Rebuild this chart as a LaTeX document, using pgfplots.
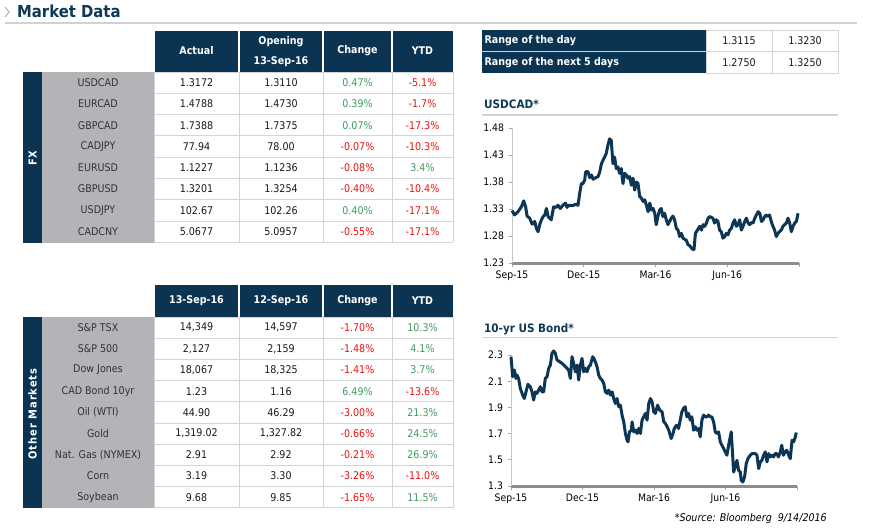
\documentclass[border=0pt]{standalone}
\usepackage{pgfplots}
\pgfplotsset{compat=1.18}
\usepackage{fontspec}
\setmainfont{DejaVu Sans Condensed}
\definecolor{navy}{HTML}{0B3452}
\definecolor{lab}{HTML}{B3B4B7}
\definecolor{labtxt}{HTML}{333333}
\definecolor{gr}{HTML}{3F9A60}
\definecolor{rd}{HTML}{EE1111}
\definecolor{bd}{HTML}{D4D4D4}
\definecolor{ln}{HTML}{0C3654}
\definecolor{ttl}{HTML}{0E3A58}

\newcommand\hfont{\bfseries\fontsize{10.6}{20}\selectfont}
\newcommand\vfont{\fontsize{10.6}{12}\selectfont}
% one table row: y-centre, name, v1, v2, change, colour, ytd, colour
\newcommand\trow[8]{%
  \node[text=labtxt,font=\vfont] at (98,#1) {#2};
  \node[text=black!90,font=\vfont] at (196.5,#1) {#3};
  \node[text=black!90,font=\vfont] at (281,#1) {#4};
  \node[text=#6,font=\vfont] at (357.5,#1) {#5};
  \node[text=#8,font=\vfont] at (422.5,#1) {#7};
}
\newcommand\hcell[4]{% x1,x2,ytop,ybot
  \fill[navy] (#1,#3) rectangle (#2,#4);}

\pgfplotsset{mychart/.style={
  scale only axis, axis lines*=left,
  xmin=0, xmax=12, xtick={0,3,6,9,12},
  xticklabels={Sep-15,Dec-15,Mar-16,Jun-16,{}},
  tick align=outside, major tick length=3.5pt,
  tick style={gray!70, line width=0.7pt},
  x axis line style={line width=3pt, color=black!45, -},
  y axis line style={line width=1pt, color=gray!45, -},
  tick label style={font=\fontsize{10.3}{11}\selectfont, text=black},
  xticklabel style={yshift=-0.5pt},
  yticklabel style={xshift=-1pt},
  clip=false,
}}

\begin{document}
\begin{tikzpicture}[x=1pt,y=-1pt]
\path[use as bounding box] (0,0) rectangle (873,530);
\fill[white] (0,0) rectangle (873,530);

% ---------- title ----------
\draw[gray!55, line width=1.1pt] (5,7) -- (9,12) -- (5,17);
\node[anchor=base west, inner sep=0, text=ttl, font=\bfseries\fontsize{16.5}{18}\selectfont] at (17,17.6) {Market Data};
\draw[gray!35, line width=2pt] (5,22.5) -- (857,22.5);

% ---------- FX table ----------
\hcell{155}{238}{30.5}{72}
\hcell{240}{322}{30.5}{72}
\hcell{324}{391}{30.5}{72}
\hcell{393}{453}{30.5}{72}
\node[text=white,font=\hfont] at (196.5,51) {Actual};
\node[text=white,font=\hfont,align=center] at (281,52) {Opening\\13-Sep-16};
\node[text=white,font=\hfont] at (357.5,51) {Change};
\node[text=white,font=\hfont] at (422.5,51) {YTD};
\fill[navy] (23,72) rectangle (42,242.5);
\fill[lab] (42,72) rectangle (153.5,242.5);
\foreach \k in {0,...,8} {\draw[bd, line width=1pt] (154,72+21.3*\k) -- (453,72+21.3*\k);}
\foreach \xx in {154,239,323,392,453} {\draw[bd, line width=1pt] (\xx,72) -- (\xx,242.4);}
\node[rotate=90,text=white,font=\bfseries\fontsize{11}{12}\selectfont] at (32.5,158) {FX};
\trow{82.6}{USDCAD}{1.3172}{1.3110}{0.47\%}{gr}{-5.1\%}{rd}
\trow{103.9}{EURCAD}{1.4788}{1.4730}{0.39\%}{gr}{-1.7\%}{rd}
\trow{125.2}{GBPCAD}{1.7388}{1.7375}{0.07\%}{gr}{-17.3\%}{rd}
\trow{146.5}{CADJPY}{77.94}{78.00}{-0.07\%}{rd}{-10.3\%}{rd}
\trow{167.8}{EURUSD}{1.1227}{1.1236}{-0.08\%}{rd}{3.4\%}{gr}
\trow{189.1}{GBPUSD}{1.3201}{1.3254}{-0.40\%}{rd}{-10.4\%}{rd}
\trow{210.4}{USDJPY}{102.67}{102.26}{0.40\%}{gr}{-17.1\%}{rd}
\trow{231.7}{CADCNY}{5.0677}{5.0957}{-0.55\%}{rd}{-17.1\%}{rd}

% ---------- Other markets table ----------
\hcell{155}{238}{285}{317}
\hcell{240}{322}{285}{317}
\hcell{324}{391}{285}{317}
\hcell{393}{453}{285}{317}
\node[text=white,font=\hfont] at (196.5,301) {13-Sep-16};
\node[text=white,font=\hfont] at (281,301) {12-Sep-16};
\node[text=white,font=\hfont] at (357.5,301) {Change};
\node[text=white,font=\hfont] at (422.5,301) {YTD};
\fill[navy] (23,317) rectangle (42,508);
\fill[lab] (42,317) rectangle (153.5,508);
\foreach \k in {0,...,9} {\draw[bd, line width=1pt] (154,317+21.2*\k) -- (453,317+21.2*\k);}
\foreach \xx in {154,239,323,392,453} {\draw[bd, line width=1pt] (\xx,317) -- (\xx,507.8);}
\node[rotate=90,text=white,font=\bfseries\fontsize{11}{12}\selectfont\addfontfeature{LetterSpace=9}] at (32.5,414) {Other Markets};
\trow{327.6}{S\&P TSX}{14,349}{14,597}{-1.70\%}{rd}{10.3\%}{gr}
\trow{348.8}{S\&P 500}{2,127}{2,159}{-1.48\%}{rd}{4.1\%}{gr}
\trow{370.0}{Dow Jones}{18,067}{18,325}{-1.41\%}{rd}{3.7\%}{gr}
\trow{391.2}{CAD Bond 10yr}{1.23}{1.16}{6.49\%}{gr}{-13.6\%}{rd}
\trow{412.4}{Oil (WTI)}{44.90}{46.29}{-3.00\%}{rd}{21.3\%}{gr}
\trow{433.6}{Gold}{1,319.02}{1,327.82}{-0.66\%}{rd}{24.5\%}{gr}
\trow{454.8}{Nat. Gas (NYMEX)}{2.91}{2.92}{-0.21\%}{rd}{26.9\%}{gr}
\trow{476.0}{Corn}{3.19}{3.30}{-3.26\%}{rd}{-11.0\%}{rd}
\trow{497.2}{Soybean}{9.68}{9.85}{-1.65\%}{rd}{11.5\%}{gr}

% ---------- Range table ----------
\fill[navy] (482,30) rectangle (706,73);
\draw[bd, line width=1pt] (482,51.5) -- (838,51.5);
\draw[bd, line width=1pt] (706,30) rectangle (838,73);
\draw[bd, line width=1pt] (772,30) -- (772,73);
\node[anchor=west,text=white,font=\hfont] at (481,41) {Range of the day};
\node[anchor=west,text=white,font=\hfont] at (481,62.5) {Range of the next 5 days};
\node[font=\vfont,text=black!90] at (739,41) {1.3115};
\node[font=\vfont,text=black!90] at (805,41) {1.3230};
\node[font=\vfont,text=black!90] at (739,62.5) {1.2750};
\node[font=\vfont,text=black!90] at (805,62.5) {1.3250};

% ---------- chart titles ----------
\node[anchor=base west, inner sep=0, text=ttl, font=\bfseries\fontsize{11.6}{13}\selectfont] at (484,108) {USDCAD*};
\draw[gray!35, line width=1.5pt] (482,115) -- (838,115);
\node[anchor=base west, inner sep=0, text=ttl, font=\bfseries\fontsize{11.6}{13}\selectfont] at (484,332) {10-yr US Bond*};
\draw[gray!35, line width=1.5pt] (482,337.5) -- (838,337.5);
\node[anchor=base east, inner sep=0, font=\itshape\fontsize{10.6}{12}\selectfont] at (827,521.5) {*Source: Bloomberg\ \ 9/14/2016};

% ---------- USDCAD chart ----------
\begin{axis}[mychart, at={(512pt,-263pt)}, anchor=south west,
  width=287pt, height=135pt, ymin=1.23, ymax=1.48,
  ytick={1.23,1.28,1.33,1.38,1.43,1.48},
  yticklabels={1.23,1.28,1.33,1.38,1.43,1.48}]
\addplot[ln, line width=3pt, line join=round] table[x=m,y=v] {
m v
0.00 1.327
0.11 1.319
0.25 1.325
0.39 1.334
0.49 1.345
0.57 1.334
0.63 1.317
0.74 1.313
0.84 1.302
0.95 1.307
1.02 1.294
1.09 1.288
1.16 1.301
1.23 1.310
1.30 1.316
1.37 1.319
1.44 1.331
1.51 1.316
1.57 1.313
1.64 1.310
1.74 1.334
1.83 1.333
1.92 1.337
2.02 1.331
2.13 1.337
2.24 1.341
2.30 1.333
2.38 1.337
2.48 1.336
2.58 1.337
2.66 1.339
2.76 1.337
2.83 1.359
2.90 1.377
2.97 1.377
3.04 1.384
3.08 1.399
3.18 1.399
3.25 1.388
3.32 1.393
3.39 1.385
3.50 1.388
3.60 1.390
3.67 1.399
3.74 1.414
3.80 1.420
3.87 1.426
3.94 1.433
4.01 1.448
4.08 1.460
4.15 1.457
4.22 1.414
4.29 1.426
4.36 1.405
4.43 1.408
4.50 1.396
4.57 1.405
4.64 1.377
4.71 1.396
4.78 1.393
4.85 1.387
4.92 1.390
4.99 1.374
5.06 1.387
5.13 1.365
5.20 1.380
5.27 1.377
5.34 1.353
5.41 1.350
5.48 1.344
5.55 1.347
5.62 1.337
5.69 1.325
5.76 1.341
5.83 1.328
5.90 1.331
5.97 1.322
6.03 1.301
6.10 1.316
6.17 1.328
6.24 1.331
6.31 1.316
6.38 1.322
6.45 1.310
6.52 1.301
6.59 1.307
6.66 1.313
6.73 1.317
6.80 1.310
6.87 1.294
6.94 1.291
7.01 1.279
7.08 1.285
7.15 1.276
7.22 1.274
7.29 1.272
7.36 1.264
7.43 1.262
7.50 1.258
7.57 1.255
7.61 1.255
7.67 1.285
7.78 1.293
7.85 1.298
7.92 1.291
7.99 1.301
8.06 1.298
8.13 1.304
8.20 1.313
8.26 1.316
8.40 1.313
8.47 1.304
8.54 1.310
8.61 1.307
8.68 1.291
8.75 1.288
8.82 1.276
8.89 1.279
8.96 1.285
9.03 1.282
9.10 1.291
9.17 1.294
9.24 1.304
9.31 1.310
9.38 1.298
9.45 1.301
9.52 1.310
9.59 1.291
9.66 1.298
9.73 1.307
9.80 1.313
9.87 1.304
9.94 1.301
10.01 1.305
10.08 1.304
10.15 1.313
10.22 1.319
10.29 1.325
10.36 1.322
10.43 1.307
10.50 1.310
10.56 1.316
10.63 1.319
10.70 1.316
10.77 1.319
10.84 1.307
10.91 1.298
10.98 1.291
11.05 1.279
11.12 1.285
11.19 1.288
11.26 1.291
11.33 1.298
11.40 1.301
11.47 1.304
11.54 1.313
11.61 1.304
11.68 1.288
11.75 1.298
11.82 1.304
11.89 1.307
11.96 1.322
};
\end{axis}

% ---------- 10-yr US Bond chart ----------
\begin{axis}[mychart, at={(511pt,-486pt)}, anchor=south west,
  width=286pt, height=131pt, ymin=1.3, ymax=2.3,
  ytick={1.3,1.5,1.7,1.9,2.1,2.3},
  yticklabels={1.3,1.5,1.7,1.9,2.1,2.3}]
\addplot[ln, line width=3pt, line join=round] table[x=m,y=v] {
m v
0.00 2.287
0.07 2.134
0.14 2.185
0.21 2.121
0.25 2.147
0.32 2.121
0.39 2.045
0.49 1.994
0.56 1.968
0.63 2.019
0.71 2.076
0.81 2.058
0.88 2.019
0.95 1.956
1.02 2.019
1.09 2.007
1.16 2.032
1.23 2.058
1.30 2.019
1.37 2.019
1.44 2.121
1.51 2.134
1.58 2.198
1.65 2.223
1.72 2.313
1.79 2.331
1.86 2.313
1.93 2.262
2.00 2.254
2.14 2.236
2.28 2.211
2.42 2.185
2.49 2.121
2.56 2.287
2.63 2.236
2.70 2.172
2.77 2.223
2.84 2.109
2.91 2.223
2.98 2.274
3.05 2.172
3.12 2.198
3.19 2.172
3.26 2.211
3.33 2.223
3.43 2.287
3.51 2.262
3.61 2.211
3.68 2.147
3.75 2.121
3.82 2.109
3.89 2.083
3.96 2.019
4.03 2.007
4.10 2.032
4.17 1.994
4.24 2.019
4.31 1.968
4.38 1.930
4.45 1.968
4.52 1.905
4.59 1.917
4.66 1.841
4.73 1.790
4.80 1.701
4.87 1.649
4.91 1.637
4.97 1.713
5.05 1.726
5.08 1.790
5.15 1.713
5.22 1.726
5.29 1.701
5.36 1.739
5.43 1.701
5.50 1.803
5.57 1.828
5.64 1.854
5.71 1.803
5.78 1.930
5.85 1.968
5.92 1.943
5.99 1.866
6.06 1.854
6.15 1.917
6.24 1.879
6.34 1.866
6.41 1.790
6.48 1.777
6.55 1.752
6.62 1.726
6.72 1.662
6.80 1.701
6.85 1.739
6.94 1.764
7.03 1.739
7.10 1.803
7.17 1.866
7.24 1.892
7.31 1.905
7.38 1.828
7.45 1.854
7.52 1.803
7.59 1.828
7.66 1.726
7.73 1.752
7.80 1.726
7.87 1.739
7.94 1.675
8.01 1.803
8.08 1.841
8.15 1.828
8.22 1.828
8.29 1.841
8.36 1.828
8.43 1.828
8.50 1.790
8.57 1.713
8.64 1.701
8.71 1.713
8.78 1.637
8.85 1.611
8.92 1.586
8.99 1.560
9.06 1.535
9.13 1.611
9.20 1.675
9.24 1.713
9.30 1.535
9.34 1.407
9.41 1.445
9.48 1.496
9.55 1.420
9.62 1.407
9.66 1.343
9.73 1.331
9.80 1.369
9.87 1.471
9.94 1.509
10.04 1.535
10.11 1.547
10.25 1.547
10.32 1.535
10.39 1.433
10.46 1.484
10.53 1.496
10.60 1.535
10.67 1.560
10.74 1.484
10.81 1.547
10.88 1.522
10.95 1.535
11.02 1.522
11.08 1.547
11.15 1.547
11.22 1.522
11.30 1.560
11.36 1.611
11.43 1.535
11.50 1.560
11.57 1.573
11.65 1.535
11.72 1.509
11.79 1.649
11.86 1.637
11.93 1.675
11.97 1.708
};
\end{axis}
\end{tikzpicture}
\end{document}
